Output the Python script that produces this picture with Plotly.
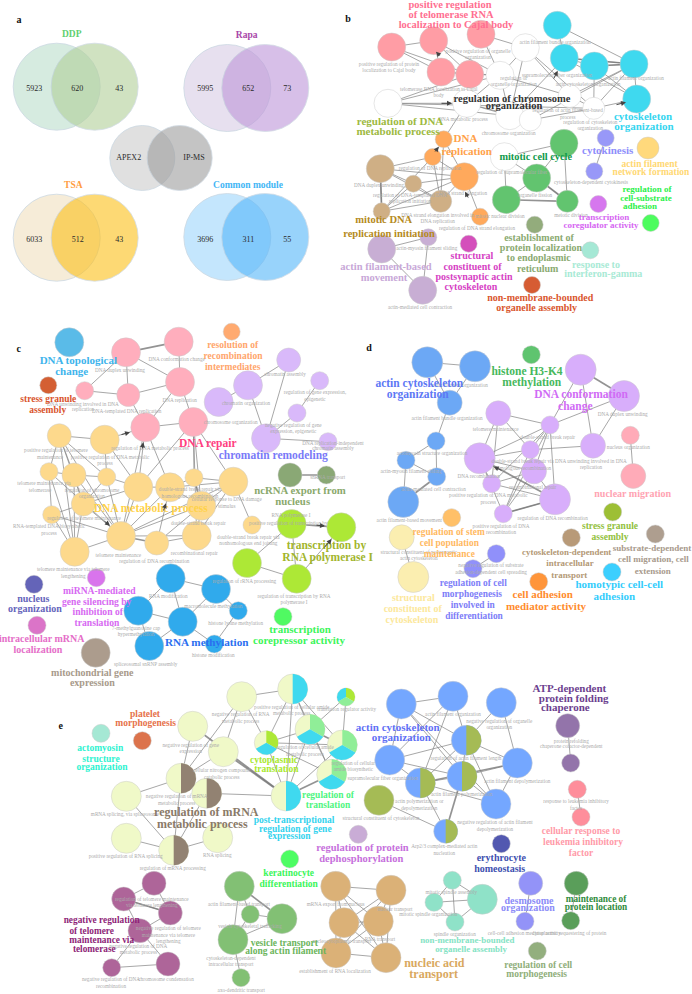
import numpy as np
import plotly.graph_objects as go

FONT = "Liberation Serif"

# ---------- panel a: Venn diagrams ----------
VENN = [  # left centre x, right centre x, y, diameter, left colour, right colour
    (56.7, 94.7, 86.7, 87, "#d6ebe0", "#b1d099"),
    (227.3, 265.3, 88, 87, "#e7e0ef", "#be96d9"),
    (142.3, 179.7, 158, 65, "#e0e0e0", "#9d9d9d"),
    (56.7, 94.7, 237.7, 87, "#f6ecd8", "#fcc019"),
    (227.3, 265.3, 237, 87, "#c4e6fd", "#55b6fa"),
]
VENN_TEXT = [
    (34.3, 88.7, "5923"), (77.3, 88.7, "620"), (119.3, 88.7, "43"),
    (205.3, 88.7, "5995"), (248.3, 88.7, "652"), (287.3, 88.7, "73"),
    (128.7, 158, "APEX2"), (194, 158, "IP-MS"),
    (34.3, 239.7, "6033"), (77.7, 239.7, "512"), (119.3, 239.7, "43"),
    (205.3, 239.7, "3696"), (248.3, 239.7, "311"), (287.3, 239.7, "55"),
]
PANEL_LETTERS = [(19, 20, "a"), (348, 19, "b"), (18.7, 349, "c"), (369, 348.3, "d"), (60.7, 726, "e")]

# ---------- network nodes: x, y, diameter, colour ----------
PINK_B, CYAN, GREEN_B, ORANGE_B, TAN_B, LILAC_B = "#ff9da5", "#3fd9ef", "#62c46f", "#ffa95c", "#cfaf85", "#c8aed4"
NODES_B = [
    (391.7, 47, 28, PINK_B), (433.7, 40.7, 28, PINK_B), (481, 34.3, 28, PINK_B), (441, 72, 28, PINK_B), (469.7, 74.3, 28, PINK_B),
    (525.3, 47.7, 28, "#ffffff"), (500, 75.3, 28, "#ffffff"), (388, 103.3, 28, "#ffffff"), (466.7, 103.3, 28, "#ffffff"),
    (509.7, 115.7, 28, "#ffffff"), (530.3, 120, 22, "#ffffff"), (569.7, 96, 23, "#ffffff"), (593.7, 108.3, 22, "#ffffff"), (504.3, 156.7, 28, "#ffffff"),
    (557.3, 25.3, 28, CYAN), (564.3, 58, 28, CYAN), (594.3, 66, 28, CYAN), (634, 64, 28, CYAN), (636.7, 99, 28, CYAN),
    (564, 143.3, 28, GREEN_B), (536.7, 178, 28, GREEN_B), (506.3, 199.7, 28, GREEN_B), (567.3, 201.3, 22, GREEN_B),
    (443.7, 139.3, 17, ORANGE_B), (432.7, 157, 17, ORANGE_B), (464.3, 176.7, 28, ORANGE_B), (480, 216.7, 17, ORANGE_B),
    (380.3, 168.7, 28, TAN_B), (413.3, 183.7, 17, TAN_B), (440.7, 201.3, 22, TAN_B), (381.7, 211.3, 17, TAN_B),
    (381.7, 249, 28, LILAC_B), (428.3, 237.3, 17, LILAC_B), (422.7, 290.3, 28, LILAC_B),
    (605.7, 138, 17, "#9898f8"), (594.3, 171.3, 17, "#9898f8"), (648, 148, 22, "#ffd97c"), (598.3, 204, 17, "#d677ee"),
    (650.7, 223, 17, "#4dfc5e"), (534.7, 224.7, 17, "#93ac7c"), (468.7, 243.7, 17, "#d44fbb"), (590.3, 250.3, 17, "#a5e8d5"), (532, 285, 17, "#d65c33"),
]
EDGES_B = [(0,1),(0,3),(0,4),(1,3),(1,4),(3,4),(1,6),(2,5),(2,6),(3,6),(4,6),(5,6),(7,6),(7,8),(7,4),(7,9),(7,12),(8,6),(8,9),(8,10),(6,9),
           (5,11),(5,9),(6,11),(14,17),(15,16),(15,17),(16,17),(15,18),(16,18),(17,18),(14,15),(9,15),(10,12),(11,12),(12,18),(12,16),(12,17),(11,17),(5,12),(10,17),
           (8,23),(23,24),(23,25),(24,25),(24,27),(27,25),(27,28),(27,29),(27,30),(28,29),(28,25),(30,29),(30,28),(30,24),(29,25),(29,24),(26,25),(30,25),(23,29),
           (13,21),(13,19),(13,20),(19,20),(19,22),(20,21),(20,22),(31,32),(31,33),(32,33),(34,35)]
THICK_B = [(21,22),(20,22),(27,30),(15,17),(16,17)]

PINK_C, LILAC_C, YEL_C, LIME, BLUE_C = "#ffaebd", "#d9b9fa", "#fdd98c", "#ade836", "#30aaec"
NODES_C = [
    (69.3, 342.3, 29, "#5abbe8"), (48.3, 385.3, 17, "#d45f33"), (231.7, 331.7, 17, "#ffaa70"),
    (126, 352.3, 29, PINK_C), (178.7, 341.7, 29, PINK_C), (180, 382, 29, PINK_C), (84.7, 390.7, 18, PINK_C), (128.3, 395, 23, PINK_C), (145.3, 427.3, 29, PINK_C), (193.3, 422, 29, PINK_C),
    (218.7, 402, 29, LILAC_C), (248, 385.3, 29, LILAC_C), (288.7, 360, 24, LILAC_C), (319.7, 380.7, 18, LILAC_C), (297, 413, 18, LILAC_C), (266, 438.3, 29, LILAC_C), (328, 441.7, 18, LILAC_C),
    (59.3, 435.7, 24, YEL_C), (104.7, 439.7, 29, YEL_C), (49, 471.7, 18, YEL_C), (74, 475, 24, YEL_C), (106.7, 477, 18, YEL_C), (138.3, 487, 29, YEL_C), (170, 487.3, 29, YEL_C),
    (194, 477.7, 18, YEL_C), (233.3, 481.7, 29, YEL_C), (83.3, 504, 24, YEL_C), (51.7, 514.7, 18, YEL_C), (201.3, 505.7, 29, YEL_C), (121, 536, 29, YEL_C), (156.7, 543, 24, YEL_C),
    (196.7, 535.7, 29, YEL_C), (74.7, 551.7, 29, YEL_C), (252, 525, 18, YEL_C),
    (290, 475, 24, "#8aa875"), (326.3, 475, 18, "#8aa875"),
    (291.7, 524, 29, LIME), (341.3, 527.3, 29, LIME), (247, 563, 29, LIME), (296.7, 578.7, 29, LIME),
    (170.7, 578.3, 29, BLUE_C), (216, 589, 29, BLUE_C), (138.3, 610.7, 29, BLUE_C), (182.7, 621.7, 29, BLUE_C), (238.3, 610.7, 18, BLUE_C), (214.3, 644, 18, BLUE_C), (149.3, 646, 29, BLUE_C),
    (34, 584.3, 18, "#6464b8"), (96.3, 577.7, 18, "#d974ec"), (37, 625.3, 18, "#db74c8"), (95.7, 652.7, 29, "#ac9c8d"), (283, 616.7, 18, "#50fa62"),
]
EDGES_C = [(3,5),(3,7),(4,5),(6,7),(6,3),(7,5),(7,8),(5,9),(5,8),(8,9),(10,11),(11,12),(11,15),(12,15),(13,14),(14,15),(15,16),(9,25),(8,23),(9,22),(9,24),(9,28),(9,31),(8,22),(8,29),(18,8),
           (17,18),(17,20),(17,21),(17,26),(17,29),(17,32),(17,19),(18,21),(18,22),(19,20),(19,27),(19,29),(19,32),(20,21),(20,26),(20,29),(20,32),(21,26),(21,29),(21,22),
           (22,23),(22,29),(22,26),(23,24),(23,25),(23,28),(23,29),(23,30),(24,25),(24,28),(25,28),(25,29),(25,33),(26,27),(26,29),(26,32),(27,29),(27,32),(28,29),(28,30),(28,31),(29,31),(29,32),(30,31),(31,25),
           (36,39),(36,38),(37,39),(38,39),(40,41),(40,42),(40,43),(41,43),(41,44),(42,43),(42,46),(43,45),(44,45),(43,46)]
THICK_C = [(3,4),(34,35),(36,37),(29,30),(24,28)]

BLUE_D, LILAC_D = "#6ca8f5", "#d8aefb"
NODES_D = [
    (427.3, 362.3, 31, BLUE_D), (475, 366.3, 31, BLUE_D), (449.7, 402.7, 25, BLUE_D), (436, 441, 18, BLUE_D), (406, 460.3, 18, BLUE_D), (436.7, 476.7, 18, BLUE_D), (403.3, 502, 31, BLUE_D),
    (531.3, 354.7, 18, "#5fc46f"),
    (580.7, 369.7, 31, LILAC_D), (624, 396, 31, LILAC_D), (498.3, 413.3, 25, LILAC_D), (550, 425, 18, LILAC_D), (593, 445.7, 25, LILAC_D), (530.3, 449.7, 18, LILAC_D),
    (479.7, 458.3, 31, LILAC_D), (534, 471.3, 25, LILAC_D), (491.7, 483.7, 18, LILAC_D), (555, 499.3, 31, LILAC_D), (503.3, 513.7, 18, LILAC_D),
    (630.3, 435.3, 18, "#ffabb8"), (633.3, 476, 25, "#ffabb8"), (451.7, 517.7, 18, "#ffc068"), (401.7, 537.3, 25, "#fbeeb0"), (413.3, 577, 31, "#fbeeb0"),
    (496.3, 553.7, 18, "#9090fa"), (473, 568.7, 18, "#9090fa"), (538.7, 581.7, 18, "#ff953a"), (571.3, 537.7, 18, "#b89a78"), (612.7, 512, 18, "#9dbf35"), (655.3, 534, 18, "#ae9e8f"), (612, 572, 18, "#3ccffe"),
]
EDGES_D = [(0,1),(0,2),(1,2),(2,3),(3,4),(3,5),(4,5),(4,6),(8,11),(8,12),(9,11),(9,12),(10,11),(10,14),(10,13),(10,16),(11,14),(11,13),(11,15),(11,17),(11,18),(11,16),
           (12,13),(13,14),(13,15),(13,18),(14,15),(14,16),(14,18),(15,16),(15,17),(15,18),(16,17),(17,18),(19,20),(22,23),(24,25)]
THICK_D = [(8,9),(14,17),(5,6),(17,18)]

CREAM, BROWN, OLIVE, BLUE_E, PALE, PLUM, GREEN_E, TAN_E, AQUA = "#f0f9c8", "#928272", "#a5bb55", "#74a7ff", "#90ee98", "#ae6599", "#82c074", "#dbb177", "#8fe2c8"
NODES_E = [
    (241.7, 696.7, 30, CREAM), (192.7, 726.3, 30, CREAM), (223.3, 751.7, 30, CREAM), (126.3, 796.3, 30, CREAM), (126.3, 838.3, 30, CREAM), (217.7, 837.7, 30, CREAM),
    (181, 778.3, 30, CREAM), (206.7, 793.3, 30, CREAM), (173.7, 850.3, 30, CREAM), (292.7, 689, 30, CREAM), (286, 796, 30, CREAM),
    (346, 697, 18, CREAM), (266.3, 742.7, 24, CREAM), (310, 729.3, 30, CREAM), (342.3, 745, 30, CREAM), (331.7, 774.3, 30, CREAM),
    (401.3, 704, 30, BLUE_E), (453, 696.3, 30, BLUE_E), (501.3, 702.7, 30, BLUE_E), (389.7, 760, 30, BLUE_E),
    (466.3, 740.3, 30, BLUE_E), (420.3, 783, 30, BLUE_E), (462, 776.3, 30, BLUE_E), (517.3, 763, 30, BLUE_E), (496, 804, 30, BLUE_E), (379, 800.3, 30, OLIVE), (445.7, 831.3, 24, BLUE_E),
    (567.7, 725.7, 24, "#9374aa"), (570.7, 763, 18, "#9374aa"), (577.3, 789.3, 18, "#fe8e9b"), (581, 817, 18, "#fe8e9b"),
    (358.3, 834.3, 18, "#c9acd6"), (501.3, 843.7, 18, "#5258b0"), (289.7, 859, 18, "#4dfd63"), (101, 733.3, 18, "#a5e8d4"), (142.3, 740.7, 18, "#dc734c"),
    (154, 883.3, 24, PLUM), (123.7, 899, 24, PLUM), (170.3, 913, 24, PLUM), (140, 930.7, 24, PLUM), (111.7, 967.7, 18, PLUM), (168, 964, 24, PLUM),
    (239.3, 886.3, 30, GREEN_E), (250.3, 914.3, 18, GREEN_E), (282, 918.7, 30, GREEN_E), (233, 939.7, 30, GREEN_E), (241, 977.7, 18, GREEN_E),
    (335.7, 886.3, 30, TAN_E), (391, 890.3, 30, TAN_E), (344, 922.7, 30, TAN_E), (378.3, 921.3, 30, TAN_E), (336, 953, 30, TAN_E), (386, 957.7, 30, TAN_E),
    (452.3, 880.3, 18, AQUA), (434, 902.3, 18, AQUA), (482.3, 899.3, 30, AQUA), (455, 922, 18, AQUA),
    (530.7, 883.3, 24, "#9393f8"), (525, 921.3, 18, "#9393f8"), (576.3, 883.3, 24, "#5a9e5a"), (570.7, 920.7, 18, "#5a9e5a"), (537.3, 951, 18, "#93af7e"),
]
EDGES_E = [(0,9),(0,12),(0,2),(1,6),(2,6),(3,6),(3,8),(4,8),(5,8),(6,7),(6,8),(7,8),(7,10),(0,6),(9,12),(9,13),(9,14),(9,10),(9,15),(10,12),(10,13),(10,14),
           (11,13),(11,14),(12,13),(12,14),(13,15),(14,15),(12,15),(16,17),(16,19),(16,20),(16,22),(16,24),(17,19),(17,20),(17,21),(18,20),(18,23),(19,20),(19,21),(19,22),
           (20,21),(20,22),(20,23),(20,24),(21,22),(21,24),(21,26),(22,23),(22,24),(23,24),(25,26),(36,37),(36,38),(37,38),(37,39),(38,39),(39,41),(39,40),(40,41),
           (42,43),(43,44),(42,45),(43,45),(44,45),(45,46),(47,48),(47,49),(47,50),(47,51),(47,52),(48,49),(48,50),(48,51),(48,52),(49,50),(49,51),(49,52),(50,51),(50,52),(51,52),
           (53,54),(53,55),(53,56),(54,55),(54,56),(55,56),(27,28),(29,30),(57,58),(59,60)]
THICK_E = [(1,10),(2,10),(10,15),(13,14),(21,23),(22,26),(42,44),(37,38)]

# sectors of the multi-colour nodes: panel-e node index, then (colour, start deg, end deg) clockwise from 12 o'clock
PIES_E = [
    (6, [(BROWN, 0, 180)]), (7, [(BROWN, 0, 180)]), (8, [(BROWN, 0, 180)]),
    (9, [(CYAN, 0, 180)]), (10, [(CYAN, 0, 180)]),
    (11, [(LIME, 0, 120), (PALE, 120, 240), (CYAN, 240, 360)]),
    (12, [(LIME, 0, 120), (CYAN, 120, 240)]),
    (13, [(PALE, 0, 120), (CYAN, 120, 240)]), (14, [(PALE, 0, 120), (CYAN, 120, 240)]), (15, [(PALE, 0, 120), (CYAN, 120, 240)]),
    (20, [(OLIVE, 0, 180)]), (21, [(OLIVE, 0, 180)]), (22, [(OLIVE, 0, 180)]), (26, [(OLIVE, 0, 180)]),
]

PANELS = [(NODES_B, EDGES_B, THICK_B), (NODES_C, EDGES_C, THICK_C), (NODES_D, EDGES_D, THICK_D), (NODES_E, EDGES_E, THICK_E)]

# arrow heads: tip x, tip y, tail x, tail y
ARROWS = [(452,103.3,440,103.3),(436,51.7,441,57),(557.7,70.7,553,80),(626,102.3,615,105),(438.7,146.7,434,153),(465,191.7,469,199),
          (130,432.3,120,435),(143.3,442.3,142,450),(110,525.7,103,520),(166,503.3,163,512),(325,526,315,525),(331.7,539,323,549),(493.7,466.7,503,471)]

# ---------- bold cluster labels: size, colour, lines ----------
TITLES = [
    (9.5, "#5fcf70", [(71.7, 34.3, "DDP")]), (9.5, "#a846a8", [(246.7, 36, "Rapa")]), (9.5, "#ff9c3e", [(73.3, 185.7, "TSA")]), (9.5, "#43b6f5", [(248, 185.7, "Common module")]),
    # b
    (10.5, "#ff6f91", [(450, 5.5, "positive regulation"), (451, 15.5, "of telomerase RNA"), (456, 25.7, "localization to Cajal body")]),
    (10.5, "#333333", [(512, 99, "regulation of chromosome"), (514, 106.7, "organization")]),
    (11, "#9db93f", [(400, 122, "regulation of DNA"), (398, 132.3, "metabolic process")]),
    (11, "#ffa14a", [(465.5, 139, "DNA"), (466.7, 152.7, "replication")]),
    (10.3, "#0f9a4a", [(535.7, 157.7, "mitotic cell cycle")]),
    (11, "#35d5ef", [(643, 117.5, "cytoskeleton"), (644, 127.7, "organization")]),
    (11, "#8e8efb", [(607.7, 151, "cytokinesis")]),
    (9.5, "#ffd873", [(649.5, 164.5, "actin filament"), (651, 173, "network formation")]),
    (9, "#2bf04a", [(647, 189.5, "regulation of"), (646, 198.5, "cell-substrate"), (640, 207, "adhesion")]),
    (9, "#d666f2", [(604, 217.5, "transcription"), (601, 225.7, "coregulator activity")]),
    (10.5, "#b58a1c", [(383.7, 220, "mitotic DNA"), (389, 234, "replication initiation")]),
    (10.5, "#c8a8d8", [(386, 267.7, "actin filament-based"), (384, 278, "movement")]),
    (10, "#d63fc4", [(472, 256.7, "structural"), (472.5, 267, "constituent of"), (474, 277.3, "postsynaptic actin"), (471, 287.7, "cytoskeleton")]),
    (10, "#8aaa70", [(539, 238, "establishment of"), (541, 248.3, "protein localization"), (538.7, 258.7, "to endoplasmic"), (537.7, 269, "reticulum")]),
    (10, "#a8ead5", [(596, 265, "response to"), (603.3, 274, "interferon-gamma")]),
    (10, "#d9562e", [(540.3, 298, "non-membrane-bounded"), (536.7, 308.3, "organelle assembly")]),
    # c
    (11, "#3eb4ec", [(78.3, 361, "DNA topological"), (71.7, 372.3, "change")]),
    (9.5, "#d9532c", [(48.3, 399.7, "stress granule"), (47.7, 410.7, "assembly")]),
    (9.5, "#ffa56b", [(232.7, 345.7, "resolution of"), (233, 356.7, "recombination"), (232.7, 367.3, "intermediates")]),
    (11.5, "#ff3f7f", [(207.7, 443.7, "DNA repair")]),
    (11.5, "#7a7af8", [(273.3, 456, "chromatin remodeling")]),
    (10.8, "#8aa96c", [(300, 491.7, "ncRNA export from"), (292.7, 502.3, "nucleus")]),
    (11.5, "#ffd24a", [(150.7, 509.3, "DNA metabolic process")]),
    (11.5, "#a2b52d", [(326.5, 546, "transcription by"), (327.7, 558, "RNA polymerase I")]),
    (9.6, "#d769f2", [(99.3, 591.7, "miRNA-mediated"), (96.7, 602.3, "gene silencing by"), (97.7, 613, "inhibition of"), (97, 624, "translation")]),
    (10, "#6464bb", [(33.3, 599, "nucleus"), (35, 609.3, "organization")]),
    (10, "#e56ec8", [(41.7, 639.7, "intracellular mRNA"), (38, 650, "localization")]),
    (10, "#a89a8b", [(92.3, 673, "mitochondrial gene"), (92.3, 683.7, "expression")]),
    (11.2, "#2a6ff0", [(206.7, 643, "RNA methylation")]),
    (11, "#3cf55a", [(300, 630.7, "transcription"), (299, 641.7, "corepressor activity")]),
    # d
    (11.5, "#5d78f5", [(419.3, 383.7, "actin cytoskeleton"), (417.7, 395, "organization")]),
    (11.5, "#46b85c", [(527, 372.3, "histone H3-K4"), (531.7, 383.3, "methylation")]),
    (11.5, "#d06bf5", [(581, 394.7, "DNA conformation"), (575.3, 407, "change")]),
    (10, "#ffa3b2", [(632.7, 494, "nuclear migration")]),
    (9.5, "#92bf3c", [(610, 526.7, "stress granule"), (610, 537.7, "assembly")]),
    (9, "#a89a8c", [(652, 548.7, "substrate-dependent"), (653.3, 560, "cell migration, cell"), (652.7, 571.3, "extension")]),
    (8.9, "#b39875", [(566.7, 552.3, "cytoskeleton-dependent"), (570, 564, "intracellular"), (569.3, 575.3, "transport")]),
    (11, "#35cdfc", [(619.3, 585.7, "homotypic cell-cell"), (614.3, 597, "adhesion")]),
    (11, "#ff8b2d", [(542.7, 595.7, "cell adhesion"), (546, 607, "mediator activity")]),
    (9.4, "#7d7df8", [(473.3, 583.3, "regulation of cell"), (472, 594.7, "morphogenesis"), (472.7, 605.7, "involved in"), (474, 617, "differentiation")]),
    (10, "#fce89c", [(413.3, 598, "structural"), (412.7, 609, "constituent of"), (412, 620.3, "cytoskeleton")]),
    (9.4, "#ffb860", [(448.7, 532.3, "regulation of stem"), (449.3, 543.3, "cell population"), (449.3, 555, "maintenance")]),
    # e
    (9.5, "#e6724a", [(145, 714.7, "platelet"), (145.7, 723.3, "morphogenesis")]),
    (9.5, "#2ef2d0", [(100.3, 748.3, "actomyosin"), (101, 759.3, "structure"), (102, 768, "organization")]),
    (12, "#8a7a68", [(206.3, 813.3, "regulation of mRNA"), (202.3, 824.7, "metabolic process")]),
    (9.5, "#a8e82e", [(274, 761, "cytoplasmic"), (276.3, 769.3, "translation")]),
    (9.5, "#4df57e", [(328, 795.3, "regulation of"), (328, 806, "translation")]),
    (9.5, "#34d3ee", [(294, 820.7, "post-transcriptional"), (295.3, 829.3, "regulation of gene"), (289.3, 836.7, "expression")]),
    (9.5, "#3bf55a", [(288.7, 873.7, "keratinocyte"), (288.7, 884.7, "differentiation")]),
    (9.3, "#8e1f78", [(101.7, 921, "negative regulation"), (91.7, 931.7, "of telomere"), (101.7, 941, "maintenance via"), (94.3, 949.3, "telomerase")]),
    (9.5, "#6cb55c", [(284.3, 943.3, "vesicle transport"), (285.7, 952, "along actin filament")]),
    (11, "#5f70f5", [(397.7, 728, "actin cytoskeleton"), (401.3, 738, "organization")]),
    (11, "#6d3f8f", [(569.3, 689.3, "ATP-dependent"), (573.7, 699.7, "protein folding"), (565.3, 708.3, "chaperone")]),
    (9.5, "#ff9aa8", [(581, 831.3, "cellular response to"), (583, 842.3, "leukemia inhibitory"), (581, 853.3, "factor")]),
    (10, "#4050b0", [(501.3, 858.3, "erythrocyte"), (499.7, 869, "homeostasis")]),
    (10.5, "#c66fdc", [(362.5, 848.7, "regulation of protein"), (361.3, 859.7, "dephosphorylation")]),
    (10, "#8b8bf8", [(529, 901, "desmosome"), (528, 908, "organization")]),
    (9.3, "#2f8c3c", [(596, 899.7, "maintenance of"), (596, 908, "protein location")]),
    (8.9, "#84e3c4", [(467.3, 941, "non-membrane-bounded"), (471, 949.3, "organelle assembly")]),
    (12, "#d9a860", [(434.3, 964, "nucleic acid"), (433.7, 975, "transport")]),
    (9.5, "#8fae7a", [(538.3, 966, "regulation of cell"), (536.7, 974.3, "morphogenesis")]),
]

# ---------- small grey term labels ----------
TERMS = [
    # b
    (389,65,"positive regulation of protein"),(389,71,"localization to Cajal body"),(478,52,"positive regulation of organelle"),(478,58,"organization"),
    (555,42.3,"actin filament bundle organization"),(513.7,78.3,"regulation of"),(513.7,84.3,"organelle organization"),(557,75.3,"supramolecular fiber organization"),
    (588,84.3,"actin cytoskeleton organization"),(636,78.7,"actin filament organization"),(438.7,89.3,"telomerase RNA localization to Cajal"),(438.7,95.3,"body"),
    (463,119.3,"DNA metabolic process"),(508.7,133.7,"chromosome organization"),(567.7,111,"regulation of actin filament-based"),(567.7,117.3,"process"),
    (590.3,122.7,"regulation of cytoskeleton"),(590.3,128.7,"organization"),(511.7,172.7,"regulation of supramolecular fiber"),(430,169,"regulation of DNA replication"),
    (379,186,"DNA duplex unwinding"),(410,195.7,"regulation of DNA-templated DNA"),(410,201.7,"replication initiation"),(463,194,"DNA strand elongation"),
    (437.7,216,"DNA strand elongation involved in"),(437.7,222,"DNA replication"),(477,228.7,"regulation of DNA strand elongation"),(500,217,"mitotic nuclear division"),
    (535,195.7,"organelle fission"),(571,216,"meiotic division"),(591,183,"cytoskeleton-dependent cytokinesis"),(426.7,249,"actin-myosin filament sliding"),(420,307.7,"actin-mediated cell contraction"),
    # c
    (120,370.3,"DNA duplex unwinding"),(176.7,359.7,"DNA conformation change"),(179.7,400.3,"DNA replication"),(83,405,"DNA unwinding involved in DNA"),(83,410,"replication"),
    (126.7,411.7,"DNA-templated DNA replication"),(285,375,"chromatin assembly"),(246,403.3,"chromatin organization"),(230.7,422.7,"chromosome organization"),
    (315,393,"regulation of gene expression,"),(315,399.3,"epigenetic"),(293.3,425.3,"negative regulation of gene"),(293.3,431.7,"expression, epigenetic"),
    (333,443.7,"DNA replication-independent"),(333,448.7,"chromatin assembly"),(327.7,477.3,"snRNA transport"),(291,516,"RNA polymerase I"),(288.3,523.3,"positive regulation of transcription by"),
    (244.3,581.3,"regulation of rRNA processing"),(294,597,"regulation of transcription by RNA"),(294,603,"polymerase I"),(248.3,537.3,"double-strand break repair via"),(248.3,543.7,"nonhomologous end joining"),
    (226.7,499.7,"cellular response to DNA damage"),(226.7,506.3,"stimulus"),(198.3,523.7,"double-strand break repair"),(190,490,"double-strand break repair via"),(190,496.3,"homologous recombination"),
    (194.3,553.7,"recombinational repair"),(154.3,561.7,"regulation of DNA recombination"),(118.3,555.7,"telomere maintenance"),(73.3,569.7,"telomere maintenance via telomere"),(73.3,576.3,"lengthening"),
    (49,527,"RNA-templated DNA biosynthetic"),(49,533.3,"process"),(150,449,"regulation of DNA metabolic process"),(56,451,"positive regulation of telomere"),(50,457.7,"maintenance"),
    (110,457.7,"positive regulation of DNA metabolic"),(105,464,"process"),(44,484,"telomere maintenance via"),(40,490.3,"telomerase"),(92,490.3,"regulation of chromosome"),(92,497,"organization"),(84,519,"regulation of telomere maintenance"),
    (168.3,596.7,"RNA modification"),(213.3,607,"macromolecule methylation"),(235.7,623.3,"histone lysine methylation"),(136,629,"7-methylguanosine cap"),(136,635,"hypermethylation"),
    (145.7,664.3,"spliceosomal snRNP assembly"),(213.3,656,"histone modification"),
    # d
    (460,385.3,"actin filament organization"),(447,418.3,"actin filament bundle organization"),(432,453.7,"actomyosin structure organization"),(411,472,"actin-myosin filament sliding"),
    (433.7,489.3,"actin-mediated cell contraction"),(409.3,520.7,"actin filament-based movement"),(495.7,429.3,"telomere maintenance"),(547.7,438,"double-strand break repair"),
    (622.7,415,"DNA duplex unwinding"),(628.3,448,"nucleus organization"),(591,461.3,"DNA unwinding involved in DNA"),(591,468,"replication"),(522.7,462,"double-strand break repair via"),
    (522.7,469,"homologous recombination"),(478.7,477,"DNA recombination"),(532.7,487.3,"recombinational repair"),(488.3,496,"positive regulation of DNA metabolic"),(488.3,503,"process"),
    (552.7,518.3,"regulation of DNA recombination"),(501,526.3,"positive regulation of DNA"),(501,532.7,"recombination"),(418.7,553,"structural constituent of postsynaptic"),(418.7,559,"actin cytoskeleton"),
    (491,566,"negative regulation of substrate"),(491,573,"adhesion-dependent cell spreading"),
    # e
    (240.7,715,"negative regulation of RNA"),(240.7,721.7,"metabolic process"),(291.7,707.7,"positive regulation of cellular amide"),(291.7,714,"metabolic process"),(346.7,709.3,"translation regulator activity"),
    (190.7,745.3,"negative regulation of gene"),(190.7,751.7,"expression"),(221.7,770.7,"cellular nitrogen compound"),(221.7,777.3,"catabolic process"),(176.7,796.7,"negative regulation of mRNA"),
    (176.7,803.3,"metabolic process"),(125,815,"mRNA splicing, via spliceosome"),(125.7,857,"positive regulation of RNA splicing"),(217.3,856,"RNA splicing"),(172.7,868.7,"regulation of mRNA processing"),
    (305,747.7,"regulation of cellular amide"),(305,754.3,"metabolic process"),(353.3,763.7,"regulation of cellular"),(353.3,770,"amide biosynthetic"),
    (151.7,899.3,"regulation of telomere maintenance"),(151.7,905.7,"via telomere lengthening"),(168.3,928.7,"negative regulation of telomere"),(168.3,935.3,"maintenance via telomere"),(168.3,942,"lengthening"),
    (138.3,946.3,"negative regulation of DNA"),(138.3,953,"metabolic process"),(111,980,"negative regulation of DNA"),(111,986.7,"recombination"),(166,979.7,"chromosome condensation"),
    (239,905,"actin filament-based transport"),(250,927,"vesicle cytoskeletal trafficking"),(231,958.3,"cytoskeleton-dependent"),(231,965,"intracellular transport"),(241.3,990.3,"axo-dendritic transport"),
    (335.7,905,"mRNA export from nucleus"),(395,909.3,"nuclear transport"),(341.7,941.3,"nucleocytoplasmic transport"),(380,940,"RNA transport"),(335,971.7,"establishment of RNA localization"),
    (453,715,"actin filament organization"),(499.3,721.7,"negative regulation of organelle"),(499.3,728,"organization"),(466,759,"regulation of actin filament length"),(382.7,778.7,"supramolecular fiber organization"),
    (517.3,781.7,"actin filament depolymerization"),(461.7,794.7,"actin filament polymerization"),(419.3,801.7,"actin polymerization or"),(419.3,808.3,"depolymerization"),(381,818.7,"structural constituent of cytoskeleton"),
    (495,822.3,"negative regulation of actin filament"),(495,829.3,"depolymerization"),(444.3,847,"Arp2/3 complex-mediated actin"),(444.3,853.3,"nucleation"),(571.3,741.3,"protein refolding"),(571.3,746.3,"chaperone cofactor-dependent"),
    (576,802,"response to leukemia inhibitory"),(576,808.3,"factor"),(451.3,893,"mitotic spindle assembly"),(428.3,914.7,"mitotic spindle organization"),(454.7,934.7,"spindle organization"),
    (524.3,933.7,"cell-cell adhesion mediator activity"),(569.3,933.3,"cytoplasmic sequestering of protein"),
]

fig = go.Figure()

# Venn circles
for lx, rx, y, d, lc, rc in VENN:
    fig.add_trace(go.Scatter(x=[lx], y=[y], mode="markers", hoverinfo="skip",
                             marker=dict(size=d, color=lc, line=dict(color="#ccd8e2", width=0.8))))
    fig.add_trace(go.Scatter(x=[rx], y=[y], mode="markers", hoverinfo="skip", opacity=0.6,
                             marker=dict(size=d, color=rc, line=dict(color="#b6c6d6", width=0.8))))

# Edges
def seg(nodes, edges):
    xs, ys = [], []
    for a, b in edges:
        xs += [nodes[a][0], nodes[b][0], None]
        ys += [nodes[a][1], nodes[b][1], None]
    return xs, ys

for nodes, edges, thick in PANELS:
    xs, ys = seg(nodes, edges)
    fig.add_trace(go.Scatter(x=xs, y=ys, mode="lines", hoverinfo="skip", line=dict(color="rgba(130,130,130,0.7)", width=1)))
    xs, ys = seg(nodes, thick)
    fig.add_trace(go.Scatter(x=xs, y=ys, mode="lines", hoverinfo="skip", line=dict(color="rgba(120,120,120,0.8)", width=1.7)))

# Nodes
for nodes, _, _ in PANELS:
    fig.add_trace(go.Scatter(
        x=[n[0] for n in nodes], y=[n[1] for n in nodes], mode="markers", hoverinfo="skip",
        marker=dict(size=[n[2] for n in nodes], color=[n[3] for n in nodes], opacity=1,
                    line=dict(color="rgba(205,205,205,0.7)", width=0.7))))

# Pie sectors
for idx, sectors in PIES_E:
    cx, cy, d, _ = NODES_E[idx]
    r = d / 2
    for col, a0, a1 in sectors:
        t = np.radians(np.linspace(a0, a1, 40))
        px = np.concatenate([[cx], cx + r * np.sin(t), [cx]])
        py = np.concatenate([[cy], cy - r * np.cos(t), [cy]])
        fig.add_trace(go.Scatter(x=px, y=py, mode="lines", fill="toself", fillcolor=col, hoverinfo="skip", line=dict(width=0)))

# Small term labels
fig.add_trace(go.Scatter(x=[t[0] for t in TERMS], y=[t[1] for t in TERMS], text=[t[2] for t in TERMS], mode="text", hoverinfo="skip",
                         textposition="middle center", textfont=dict(family=FONT, size=5.2, color="#ababab")))

# Venn numbers and panel letters
fig.add_trace(go.Scatter(x=[t[0] for t in VENN_TEXT], y=[t[1] for t in VENN_TEXT], text=[t[2] for t in VENN_TEXT], mode="text", hoverinfo="skip",
                         textposition="middle center", textfont=dict(family=FONT, size=8, color="#2a2a2a")))
fig.add_trace(go.Scatter(x=[t[0] for t in PANEL_LETTERS], y=[t[1] for t in PANEL_LETTERS], text=[t[2] for t in PANEL_LETTERS], mode="text", hoverinfo="skip",
                         textposition="middle center", textfont=dict(family=FONT, size=10, color="#111111", weight="bold")))

# Cluster labels
for size, color, lines in TITLES:
    fig.add_trace(go.Scatter(x=[l[0] for l in lines], y=[l[1] for l in lines], text=[l[2] for l in lines], mode="text", hoverinfo="skip",
                             textposition="middle center", textfont=dict(family=FONT, size=size, color=color, weight="bold")))

# Arrow heads
for tx, ty, ax_, ay_ in ARROWS:
    fig.add_annotation(x=tx, y=ty, ax=ax_, ay=ay_, xref="x", yref="y", axref="x", ayref="y", text="", showarrow=True,
                       arrowhead=2, arrowsize=1, arrowwidth=1, arrowcolor="#444444", standoff=0)

fig.update_layout(
    width=692, height=994, margin=dict(l=0, r=0, t=0, b=0), showlegend=False,
    paper_bgcolor="white", plot_bgcolor="white",
    xaxis=dict(range=[0, 692], visible=False, fixedrange=True),
    yaxis=dict(range=[994, 0], visible=False, fixedrange=True),
)
fig.write_html("out.html", config=dict(displayModeBar=False),
               post_script="document.body.style.margin='0';")
